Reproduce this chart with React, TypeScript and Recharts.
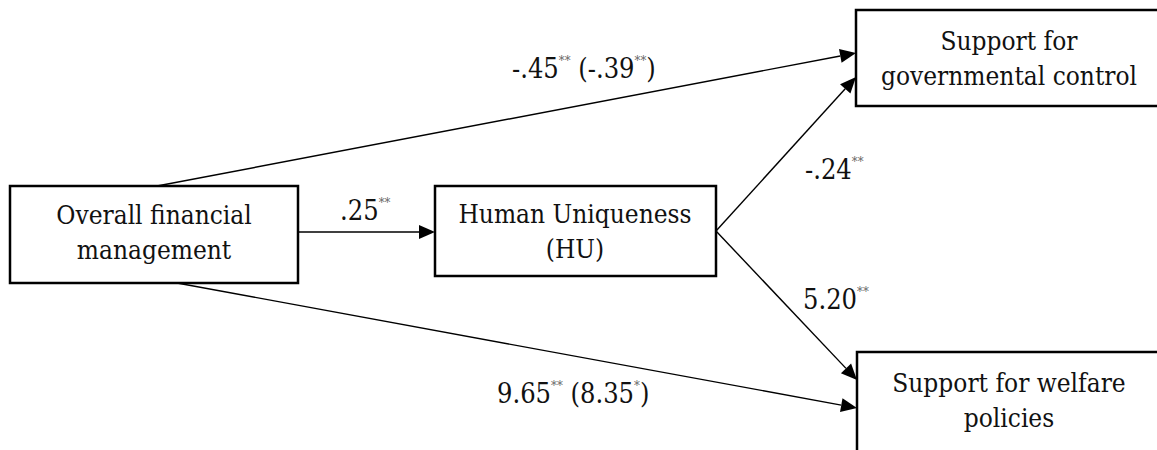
import { ComposedChart, XAxis, YAxis, Scatter, ReferenceArea, ReferenceLine } from 'recharts';

const W = 1157;
const H = 450;
const FONT = "'DejaVu Serif Condensed', 'DejaVu Serif', serif";

// path model: variables and their labels
const nodeIds = ['fin', 'hu', 'gov', 'wel'];
const nodeLines = [
    ['Overall financial', 'management'],
    ['Human Uniqueness', '(HU)'],
    ['Support for', 'governmental control'],
    ['Support for welfare', 'policies'],
];

// box extents in diagram units [x1, x2, y1, y2]
const nodeBoxes = [
    [10, 298, 186, 283],
    [435, 716, 186, 276],
    [856, 1175, 10, 106],
    [857, 1175, 352, 470],
];
// text anchor (centre x, first baseline y)
const nodeTextX = [154, 575, 1009, 1009];
const nodeTextY = [224, 223, 50, 392];

// paths: from -> to, coefficient (b), significance, total effect (c) in parentheses
const pathFrom = ['fin', 'fin', 'hu', 'hu', 'fin'];
const pathTo = ['gov', 'hu', 'gov', 'wel', 'wel'];
const pathB = ['-.45', '.25', '-.24', '5.20', '9.65'];
const pathBSig = ['**', '**', '**', '**', '**'];
const pathC = ['-.39', '', '', '', '8.35'];
const pathCSig = ['**', '', '', '', '*'];

// anchor points of each arrow [x1, y1, x2, y2]
const pathEnds = [
    [157, 186, 856, 53],
    [298, 232, 435, 232],
    [716, 231, 856, 77],
    [716, 231, 857, 380],
    [177, 283, 857, 408],
];
// where each coefficient is written (left x, baseline y)
const labelX = [512, 340, 805, 803, 497];
const labelY = [78, 220, 179, 309, 403];

const textData = nodeIds.map((id, i) => ({ id, x: nodeTextX[i], y: nodeTextY[i], lines: nodeLines[i] }));
const labelData = pathB.map((b, i) => ({
    x: labelX[i],
    y: labelY[i],
    b,
    bSig: pathBSig[i],
    c: pathC[i],
    cSig: pathCSig[i],
    from: pathFrom[i],
    to: pathTo[i],
}));

const Arrow = (props: any) => {
    const { x1, y1, x2, y2 } = props;
    const ang = Math.atan2(y2 - y1, x2 - x1);
    const len = 16;
    const half = 7;
    const bx = x2 - len * Math.cos(ang);
    const by = y2 - len * Math.sin(ang);
    const px = -Math.sin(ang) * half;
    const py = Math.cos(ang) * half;
    return (
        <g>
            <line x1={x1} y1={y1} x2={bx} y2={by} stroke="#000" strokeWidth={1.4} />
            <polygon points={`${x2},${y2} ${bx + px},${by + py} ${bx - px},${by - py}`} fill="#000" />
        </g>
    );
};

const NodeText = (props: any) => {
    const { cx, cy, payload } = props;
    return (
        <text x={cx} y={cy} textAnchor="middle" fontFamily={FONT} fontSize={26} fill="#111">
            {payload.lines.map((l: string, i: number) => (
                <tspan key={i} x={cx} dy={i === 0 ? 0 : 35}>{l}</tspan>
            ))}
        </text>
    );
};

const Coef = (props: any) => {
    const { cx, cy, payload } = props;
    const sup = { fontSize: 13, fill: '#666' };
    return (
        <text x={cx} y={cy} fontFamily={FONT} fontSize={27} fill="#111">
            {payload.b}
            <tspan dy={-13} {...sup}>{payload.bSig}</tspan>
            {payload.c ? (
                <>
                    <tspan dy={13}>{` (${payload.c}`}</tspan>
                    <tspan dy={-13} {...sup}>{payload.cSig}</tspan>
                    <tspan dy={13}>)</tspan>
                </>
            ) : null}
        </text>
    );
};

const App = () => {
    return (
        <div style={{ position: 'absolute', left: 0, top: 0, width: W, height: H, background: '#fff' }}>
            <ComposedChart width={W} height={H} margin={{ top: 0, right: 0, bottom: 0, left: 0 }}>
                <XAxis type="number" dataKey="x" domain={[0, W]} hide allowDataOverflow />
                <YAxis type="number" dataKey="y" domain={[0, H]} reversed hide allowDataOverflow />
                {pathEnds.map((p, i) => (
                    <ReferenceLine
                        key={`p${i}`}
                        segment={[{ x: p[0], y: p[1] }, { x: p[2], y: p[3] }]}
                        ifOverflow="visible"
                        shape={Arrow}
                    />
                ))}
                {nodeBoxes.map((b, i) => (
                    <ReferenceArea
                        key={nodeIds[i]}
                        x1={b[0]}
                        x2={b[1]}
                        y1={b[2]}
                        y2={b[3]}
                        ifOverflow="visible"
                        fill="#fff"
                        fillOpacity={1}
                        stroke="#000"
                        strokeWidth={2.5}
                    />
                ))}
                <Scatter data={textData} shape={NodeText} isAnimationActive={false} />
                <Scatter data={labelData} shape={Coef} isAnimationActive={false} />
            </ComposedChart>
        </div>
    );
};

export default App;
